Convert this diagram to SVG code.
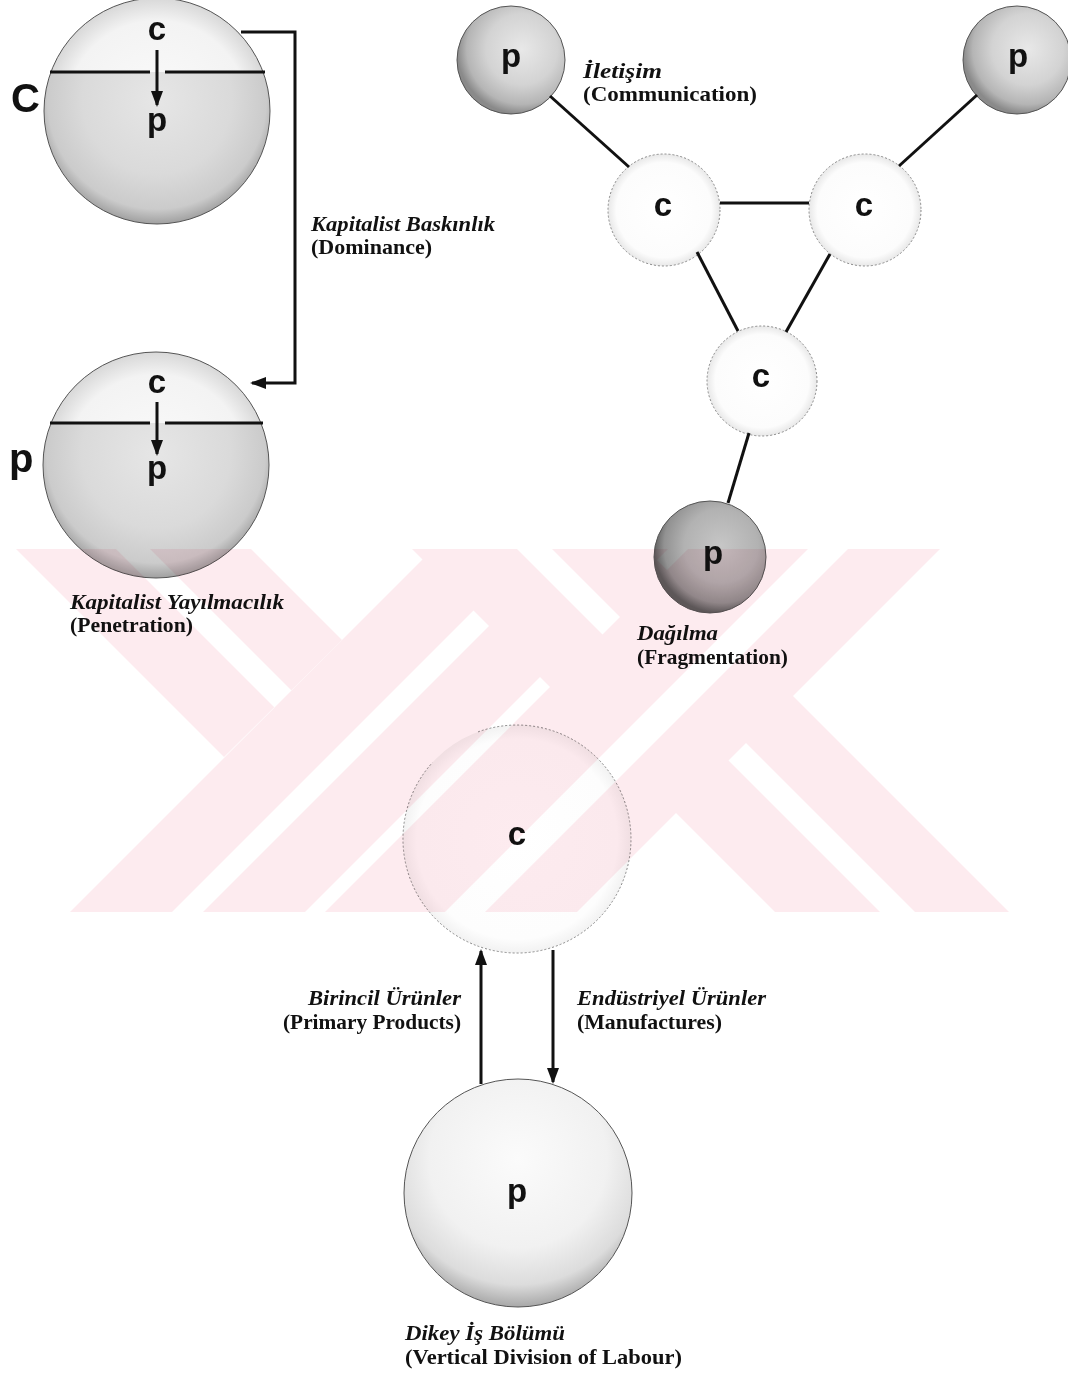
<svg xmlns="http://www.w3.org/2000/svg" width="1068" height="1374" viewBox="0 0 1068 1374">
<style>
.li{font-family:"Liberation Serif","Times New Roman",serif;font-weight:bold;font-style:italic;font-size:21px;fill:#111}
.lb{font-family:"Liberation Serif","Times New Roman",serif;font-weight:bold;font-size:21px;fill:#111}
.sym{font-family:"Liberation Sans",Arial,sans-serif;font-weight:bold;font-size:33px;fill:#111;text-anchor:middle}
.big{font-family:"Liberation Sans",Arial,sans-serif;font-weight:bold;font-size:40px;fill:#111}
.conn{fill:none;stroke:#111;stroke-width:3}
.edge{stroke:#111;stroke-width:3.2}
.rim{fill:none;stroke:#555;stroke-width:1}
.rimc{fill:none;stroke:#888;stroke-width:1;stroke-dasharray:2 2}
.wm{fill:#fdebef}
.ws{fill:#fff}
</style>
<defs>
<marker id="ah" viewBox="0 0 16 12" refX="14" refY="6" markerWidth="16" markerHeight="12" markerUnits="userSpaceOnUse" orient="auto"><path d="M0,0 L16,6 L0,12 z" fill="#111"/></marker>
<radialGradient id="gCap" cx="0.5" cy="0.5" r="0.5"><stop offset="0" stop-color="#fbfbfb"/><stop offset="0.8" stop-color="#f3f3f3"/><stop offset="1" stop-color="#d8d8d8"/></radialGradient>
<radialGradient id="gLow" cx="0.5" cy="0.45" r="0.55"><stop offset="0" stop-color="#e6e6e6"/><stop offset="0.6" stop-color="#dadada"/><stop offset="0.88" stop-color="#cbcbcb"/><stop offset="1" stop-color="#a0a0a0"/></radialGradient>
<radialGradient id="gP" cx="0.6" cy="0.4" r="0.6"><stop offset="0" stop-color="#e8e8e8"/><stop offset="0.55" stop-color="#d3d3d3"/><stop offset="0.85" stop-color="#b5b5b5"/><stop offset="1" stop-color="#8a8a8a"/></radialGradient>
<radialGradient id="gP3" cx="0.6" cy="0.4" r="0.6"><stop offset="0" stop-color="#c6c6c6"/><stop offset="0.55" stop-color="#b2b2b2"/><stop offset="0.85" stop-color="#929292"/><stop offset="1" stop-color="#5e5e5e"/></radialGradient>
<radialGradient id="gC" cx="0.5" cy="0.5" r="0.5"><stop offset="0" stop-color="#ffffff"/><stop offset="0.85" stop-color="#fcfcfc"/><stop offset="1" stop-color="#e8e8e8"/></radialGradient>
<radialGradient id="gCbig" cx="0.5" cy="0.5" r="0.5"><stop offset="0" stop-color="#ffffff"/><stop offset="0.88" stop-color="#fdfdfd"/><stop offset="1" stop-color="#f2f2f2"/></radialGradient>
<radialGradient id="gBigP" cx="0.5" cy="0.35" r="0.65"><stop offset="0" stop-color="#fbfbfb"/><stop offset="0.6" stop-color="#f1f1f1"/><stop offset="0.85" stop-color="#dcdcdc"/><stop offset="1" stop-color="#a8a8a8"/></radialGradient>
<clipPath id="cu1"><rect x="0" y="-20" width="300" height="92"/></clipPath>
<clipPath id="cl1"><rect x="0" y="72" width="300" height="200"/></clipPath>
<clipPath id="cu2"><rect x="0" y="300" width="300" height="123"/></clipPath>
<clipPath id="cl2"><rect x="0" y="423" width="300" height="200"/></clipPath>
<clipPath id="wmclip"><rect x="0" y="549" width="1068" height="363"/></clipPath>
</defs>
<rect x="0" y="0" width="1068" height="1374" fill="#ffffff"/>

<g id="node-c-dominant">
<circle cx="157" cy="111" r="113" fill="url(#gCap)" clip-path="url(#cu1)"/>
<circle cx="157" cy="111" r="113" fill="url(#gLow)" clip-path="url(#cl1)"/>
<circle cx="157" cy="111" r="113" class="rim"/>
<line x1="50" y1="72" x2="150" y2="72" class="edge"/>
<line x1="165" y1="72" x2="265" y2="72" class="edge"/>
<text x="157" y="40" class="sym">c</text>
<text x="157" y="131" class="sym">p</text>
<text x="11" y="112" class="big">C</text>
</g>

<g id="node-p-penetrated">
<circle cx="156" cy="465" r="113" fill="url(#gCap)" clip-path="url(#cu2)"/>
<circle cx="156" cy="465" r="113" fill="url(#gLow)" clip-path="url(#cl2)"/>
<circle cx="156" cy="465" r="113" class="rim"/>
<line x1="50" y1="423" x2="150" y2="423" class="edge"/>
<line x1="165" y1="423" x2="263" y2="423" class="edge"/>
<text x="157" y="393" class="sym">c</text>
<text x="157" y="479" class="sym">p</text>
<text x="9" y="472" class="big">p</text>
</g>

<g id="node-p1"><circle cx="511" cy="60" r="54" fill="url(#gP)"/><circle cx="511" cy="60" r="54" class="rim"/><text x="511" y="67" class="sym">p</text></g>
<g id="node-p2"><circle cx="1017" cy="60" r="54" fill="url(#gP)"/><circle cx="1017" cy="60" r="54" class="rim"/><text x="1018" y="67" class="sym">p</text></g>
<g id="node-c1"><circle cx="664" cy="210" r="56" fill="url(#gC)"/><circle cx="664" cy="210" r="56" class="rimc"/><text x="663" y="216" class="sym">c</text></g>
<g id="node-c2"><circle cx="865" cy="210" r="56" fill="url(#gC)"/><circle cx="865" cy="210" r="56" class="rimc"/><text x="864" y="216" class="sym">c</text></g>
<g id="node-c3"><circle cx="762" cy="381" r="55" fill="url(#gC)"/><circle cx="762" cy="381" r="55" class="rimc"/><text x="761" y="387" class="sym">c</text></g>
<g id="node-p3"><circle cx="710" cy="557" r="56" fill="url(#gP3)"/><circle cx="710" cy="557" r="56" class="rim" stroke="#333"/><text x="713" y="564" class="sym">p</text></g>

<g id="node-c-big"><circle cx="517" cy="839" r="114" fill="url(#gCbig)"/><path d="M478,731.9 A114,114 0 1,1 432.3,762.7" class="rimc"/><text x="517" y="845" class="sym">c</text></g>
<g id="node-p-big"><circle cx="518" cy="1193" r="114" fill="url(#gBigP)"/><circle cx="518" cy="1193" r="114" class="rim"/><text x="517" y="1202" class="sym">p</text></g>

<g id="connectors">
<line x1="157" y1="50" x2="157" y2="105" class="conn" marker-end="url(#ah)"/>
<line x1="157" y1="402" x2="157" y2="454" class="conn" marker-end="url(#ah)"/>
<path d="M241,32 H295 V383 H252" class="conn" marker-end="url(#ah)"/>
<line x1="550" y1="96" x2="629" y2="167" class="conn"/>
<line x1="977" y1="95" x2="899" y2="166" class="conn"/>
<line x1="720" y1="203" x2="809" y2="203" class="conn"/>
<line x1="697" y1="252" x2="738" y2="331" class="conn"/>
<line x1="830" y1="254" x2="786" y2="332" class="conn"/>
<line x1="749" y1="433" x2="728" y2="503" class="conn"/>
<line x1="481" y1="1084" x2="481" y2="951" class="conn" marker-end="url(#ah)"/>
<line x1="553" y1="950" x2="553" y2="1082" class="conn" marker-end="url(#ah)"/>
</g>

<g id="labels">
<text x="311" y="231" class="li" textLength="184" lengthAdjust="spacingAndGlyphs">Kapitalist Baskınlık</text>
<text x="311" y="254" class="lb" textLength="121" lengthAdjust="spacingAndGlyphs">(Dominance)</text>
<text x="583" y="78" class="li" textLength="79" lengthAdjust="spacingAndGlyphs">İletişim</text>
<text x="583" y="101" class="lb" textLength="174" lengthAdjust="spacingAndGlyphs">(Communication)</text>
<text x="70" y="609" class="li" textLength="214" lengthAdjust="spacingAndGlyphs">Kapitalist Yayılmacılık</text>
<text x="70" y="632" class="lb" textLength="123" lengthAdjust="spacingAndGlyphs">(Penetration)</text>
<text x="637" y="640" class="li" textLength="81" lengthAdjust="spacingAndGlyphs">Dağılma</text>
<text x="637" y="664" class="lb" textLength="151" lengthAdjust="spacingAndGlyphs">(Fragmentation)</text>
<text x="308" y="1005" class="li" textLength="153" lengthAdjust="spacingAndGlyphs">Birincil Ürünler</text>
<text x="283" y="1029" class="lb" textLength="178" lengthAdjust="spacingAndGlyphs">(Primary Products)</text>
<text x="577" y="1005" class="li" textLength="189" lengthAdjust="spacingAndGlyphs">Endüstriyel Ürünler</text>
<text x="577" y="1029" class="lb" textLength="145" lengthAdjust="spacingAndGlyphs">(Manufactures)</text>
<text x="405" y="1340" class="li" textLength="160" lengthAdjust="spacingAndGlyphs">Dikey İş Bölümü</text>
<text x="405" y="1364" class="lb" textLength="277" lengthAdjust="spacingAndGlyphs">(Vertical Division of Labour)</text>
</g>

<g id="watermark" clip-path="url(#wmclip)" style="mix-blend-mode:multiply">
<polygon class="wm" points="16,549 251,549 342,640 224,757"/>
<polygon class="ws" points="116,549 150,549 291.5,690.5 274.5,707.5"/>
<polygon class="wm" points="433,549 668,549 305,912 70,912"/>
<polygon class="ws" points="535,549 566,549 203,912 172,912"/>
<polygon class="wm" points="412,549 646,549 1009,912 775,912"/>
<polygon class="ws" points="517,549 552,549 915,912 880,912"/>
<polygon class="wm" points="688,549 940,549 577,912 325,912"/>
<polygon class="ws" points="808,549 848,549 485,912 445,912"/>
</g>
</svg>
